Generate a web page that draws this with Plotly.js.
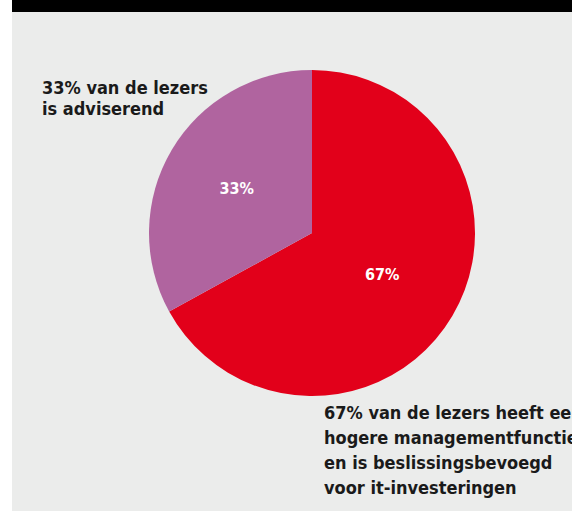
<!DOCTYPE html>
<html><head><meta charset="utf-8">
<script src="https://cdn.plot.ly/plotly-3.0.1.min.js"></script>
<style>html,body{margin:0;padding:0;background:#ebeceb;}#chart{width:572px;height:511px;}</style>
</head><body><div id="chart"></div>
<script>
var categories = ["beslissingsbevoegd", "adviserend"];
var values = [67, 33];
var colors = ["#e2001a", "#b0649f"];
var topLabelLines = ["33% van de lezers", "is adviserend"];
var bottomLabelLines = ["67% van de lezers heeft een", "hogere managementfunctie", "en is beslissingsbevoegd", "voor it-investeringen"];

var W = 572, H = 511;
function px(x){return x / W;}
function py(y){return 1 - y / H;}
var FONT = "DejaVu Sans Condensed, Liberation Sans Narrow, sans-serif";

var trace = {
  type: "pie",
  labels: categories,
  values: values,
  sort: false,
  direction: "clockwise",
  rotation: 0,
  marker: {colors: colors, line: {width: 0}},
  textinfo: "percent",
  textposition: "inside",
  insidetextorientation: "horizontal",
  textfont: {family: FONT, size: 16, color: "#ffffff", weight: "bold"},
  hoverinfo: "none",
  showlegend: false,
  domain: {x: [px(149), px(475)], y: [py(396), py(70)]}
};

var annotations = [];
var topY = [87, 108];
topLabelLines.forEach(function(t, i){
  annotations.push({xref:"paper", yref:"paper", x: px(40), y: py(topY[i]), xanchor:"left", yanchor:"middle",
    text: t, showarrow:false, font:{family: FONT, size: 18, color:"#1a1a1a", weight:"bold"}});
});
var botY = [412, 437, 462, 487];
bottomLabelLines.forEach(function(t, i){
  annotations.push({xref:"paper", yref:"paper", x: px(322), y: py(botY[i]), xanchor:"left", yanchor:"middle",
    text: t, showarrow:false, font:{family: FONT, size: 18, color:"#1a1a1a", weight:"bold"}});
});

var layout = {
  width: W, height: H,
  margin: {l:0, r:0, t:0, b:0},
  paper_bgcolor: "#ebeceb",
  plot_bgcolor: "#ebeceb",
  annotations: annotations,
  shapes: [
    {type:"rect", xref:"paper", yref:"paper", x0:0, x1:px(12), y0:0, y1:1, fillcolor:"#ffffff", line:{width:0}, layer:"below"},
    {type:"rect", xref:"paper", yref:"paper", x0:px(12), x1:1, y0:py(12), y1:1, fillcolor:"#000000", line:{width:0}}
  ]
};

Plotly.newPlot("chart", [trace], layout, {staticPlot: true, displayModeBar: false});
</script>
</body></html>
